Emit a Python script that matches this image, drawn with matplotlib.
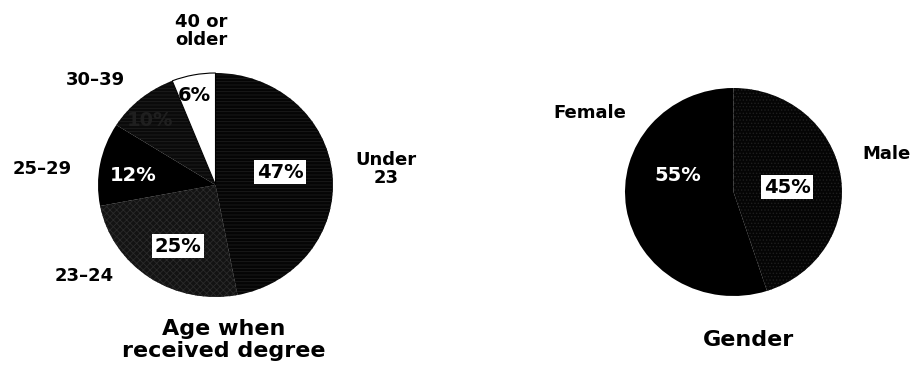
import matplotlib
matplotlib.use("Agg")
from matplotlib import pyplot as plt

plt.rcParams['font.family'] = 'DejaVu Sans'
plt.rcParams['hatch.linewidth'] = 0.6

# age when received degree (clockwise from 12 o'clock)
age_groups = ['Under\n23', '23\u201324', '25\u201329', '30\u201339', '40 or\nolder']
age_pct = [47, 25, 12, 10, 6]

# gender
genders = ['Male', 'Female']
gender_pct = [45, 55]

W, H = 915, 372
fig = plt.figure(figsize=(W / 100, H / 100), dpi=100)


def px_axes(cx, cy, rx, ry):
    ax = fig.add_axes([(cx - rx) / W, 1 - (cy + ry) / H, 2 * rx / W, 2 * ry / H])
    ax.axis('off')
    return ax


def ftext(x, y, s, size=13, ls=1.0):
    fig.text(x / W, 1 - y / H, s, ha='center', va='center', fontsize=size,
             fontweight='bold', linespacing=ls)


# ---- left pie
ax1 = px_axes(215.5, 185, 117.5, 112)
wedges, _ = ax1.pie(age_pct, startangle=90, counterclock=False, radius=1,
                    colors=['#050505', '#131313', '#000000', '#0a0a0a', '#ffffff'],
                    wedgeprops=dict(linewidth=0))
ax1.set_xlim(-1, 1)
ax1.set_ylim(-1, 1)
ax1.set_aspect('auto')
hatches = ['-----', 'xxxxx', None, '-----', None]
hcols = ['#1c1c1c', '#2a2a2a', '#000000', '#1e1e1e', '#ffffff']
for w, h, c in zip(wedges, hatches, hcols):
    if h:
        w.set_hatch(h)
        w.set_edgecolor(c)
wedges[4].set_edgecolor('#000000')
wedges[4].set_linewidth(0.8)

pct_pos1 = [(0.549, 0.116), (-0.319, -0.545), (-0.702, 0.089), (-0.56, 0.58), (-0.183, 0.795)]
pct_style1 = ['box', 'box', 'white', 'hidden', 'black']
for p, (x, y), st in zip(age_pct, pct_pos1, pct_style1):
    kw = dict(ha='center', va='center', fontsize=14, fontweight='bold')
    if st == 'box':
        ax1.text(x, y, f'{p}%', color='black',
                 bbox=dict(boxstyle='square,pad=0.12', fc='white', ec='none'), **kw)
    elif st == 'white':
        ax1.text(x, y, f'{p}%', color='white', **kw)
    elif st == 'hidden':
        ax1.text(x, y, f'{p}%', color='#1f1f1f', **kw)
    else:
        ax1.text(x, y, f'{p}%', color='black', **kw)

age_label_pos = [(386, 169), (84, 276), (42, 169), (95, 80), (201, 31)]
for lab, (x, y) in zip(age_groups, age_label_pos):
    ftext(x, y, lab, ls=1.05)
ftext(224, 340, 'Age when\nreceived degree', size=16, ls=1.1)

# ---- right pie
ax2 = px_axes(733.5, 192, 108.5, 104)
wedges2, _ = ax2.pie(gender_pct, startangle=90, counterclock=False, radius=1,
                     colors=['#050505', '#000000'], wedgeprops=dict(linewidth=0))
ax2.set_xlim(-1, 1)
ax2.set_ylim(-1, 1)
ax2.set_aspect('auto')
wedges2[0].set_hatch('.....')
wedges2[0].set_edgecolor('#1e1e1e')

ax2.text(0.493, 0.048, f'{gender_pct[0]}%', ha='center', va='center', fontsize=14,
         fontweight='bold', color='black',
         bbox=dict(boxstyle='square,pad=0.12', fc='white', ec='none'))
ax2.text(-0.512, 0.163, f'{gender_pct[1]}%', ha='center', va='center', fontsize=14,
         fontweight='bold', color='white')

ftext(886, 154, genders[0])
ftext(590, 113, genders[1])
ftext(748, 340, 'Gender', size=16)

fig.savefig('out.png', dpi=100)
